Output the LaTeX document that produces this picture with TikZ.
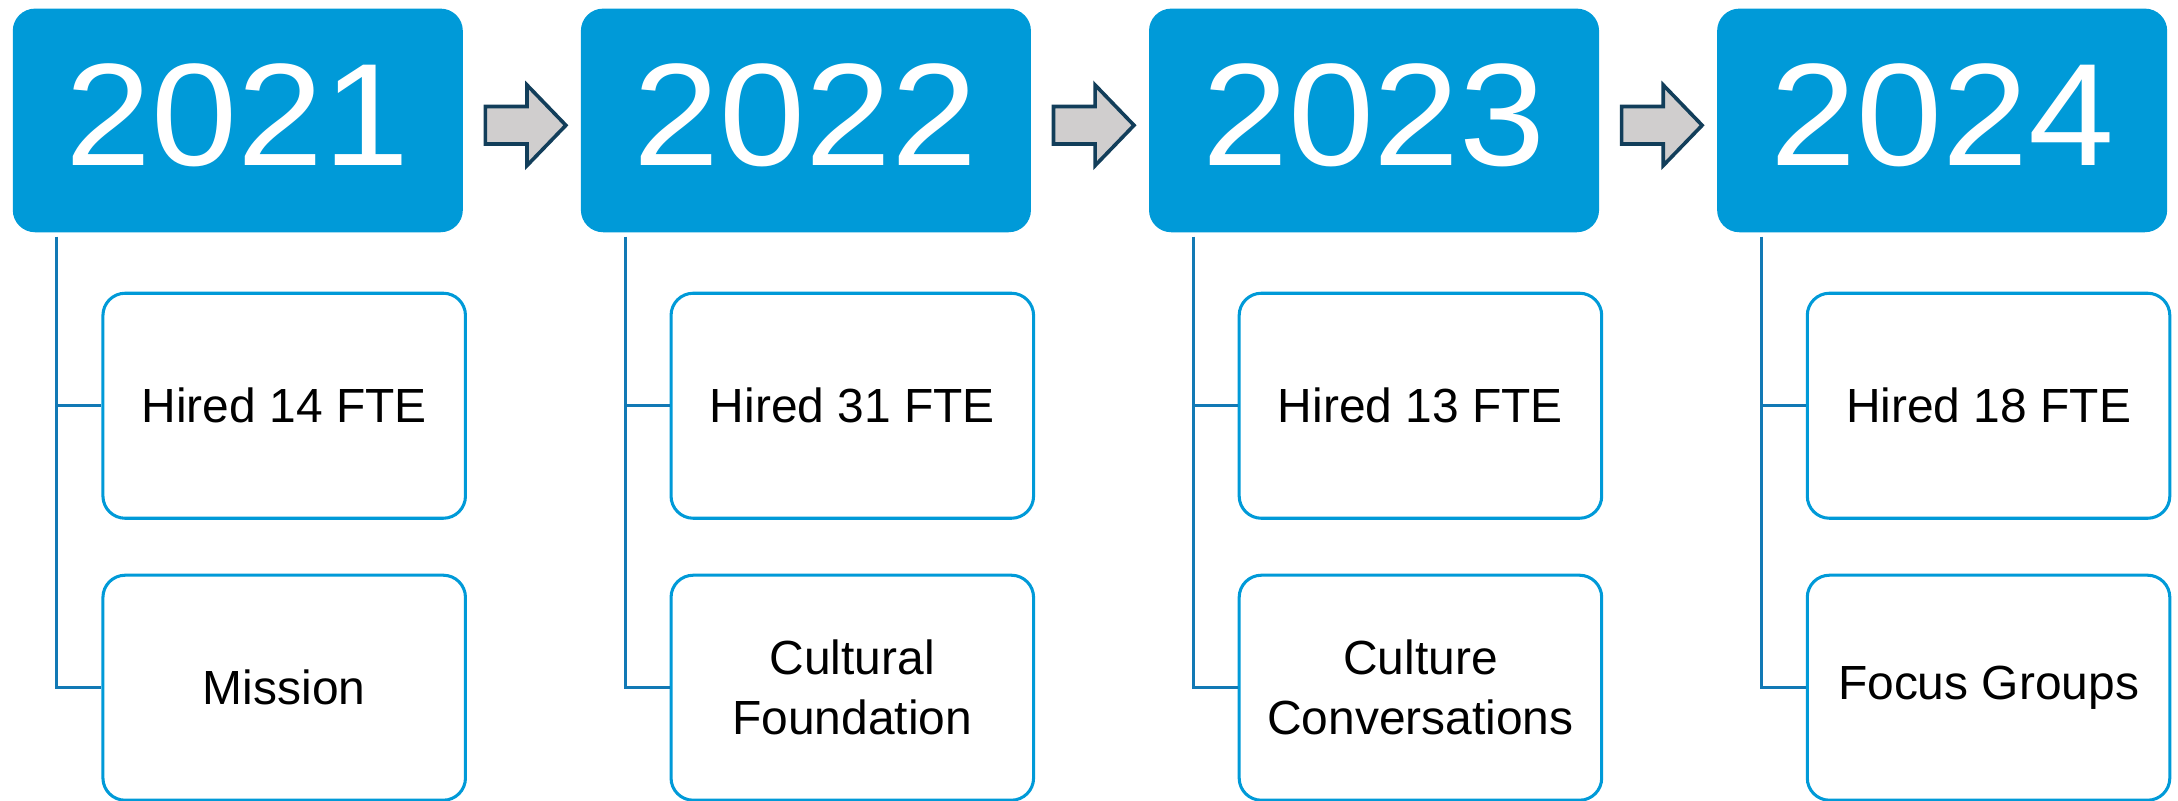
\documentclass[tikz,border=0pt]{standalone}
\usepackage{fontspec}
\setmainfont{Liberation Sans}
\usetikzlibrary{calc}
\definecolor{yearblue}{RGB}{0,154,216}
\definecolor{linkblue}{RGB}{18,121,181}
\definecolor{arrowfill}{RGB}{208,206,206}
\definecolor{arrowline}{RGB}{18,62,90}
\begin{document}
\begin{tikzpicture}[x=1pt,y=-1pt,
  yearbox/.style={fill=yearblue, rounded corners=16pt, minimum width=324pt, minimum height=161pt,
    inner sep=0pt, anchor=north west, text=white, font=\fontsize{105}{105}\selectfont, text depth=8pt},
  itembox/.style={draw=yearblue, line width=2.2pt, fill=white, rounded corners=16pt,
    minimum width=261pt, minimum height=162pt, inner sep=0pt, anchor=north west,
    align=center, font=\fontsize{34.5}{43}\selectfont},
  linkline/.style={draw=linkblue, line width=2.2pt},
  flowarrow/.style={fill=arrowfill, draw=arrowline, line width=2.6pt, line join=miter}
]
\useasboundingbox (0,0) rectangle (1568,576);

\foreach \i/\yr/\ta/\tb [evaluate=\i as \x using 9+409*(\i-1)] in
  {1/2021/{Hired 14 FTE}/{Mission},
   2/2022/{Hired 31 FTE}/{Cultural\\Foundation},
   3/2023/{Hired 13 FTE}/{Culture\\Conversations},
   4/2024/{Hired 18 FTE}/{Focus Groups}} {
  \node[yearbox] (y\i) at (\x,6) {\scalebox{1.06}[1]{\yr}};
  \node[itembox] (a\i) at (\x+64,210) {\ta};
  \node[itembox] (b\i) at (\x+64,413) {\tb};
  \coordinate (t\i) at ($(y\i.south west)+(32,3)$);
  \draw[linkline] (t\i) |- (b\i.west);
  \draw[linkline] (t\i |- a\i.west) -- (a\i.west);
}

\foreach \i in {1,2,3} {
  \coordinate (r\i) at ($(y\i.east)+(16,3.5)$);
  \draw[flowarrow] (r\i) ++(0,-13.5) -- ++(30,0) -- ++(0,-15.5) -- ++(28,29) -- ++(-28,29)
     -- ++(0,-15.5) -- ++(-30,0) -- cycle;
}
\end{tikzpicture}
\end{document}
